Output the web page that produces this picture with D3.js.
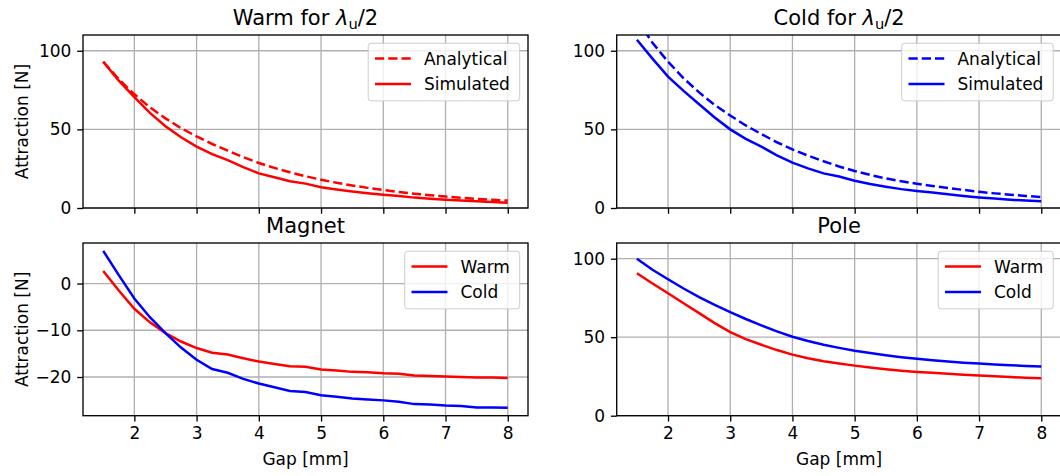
<!DOCTYPE html>
<html><head><meta charset="utf-8">
<script src="https://cdn.jsdelivr.net/npm/d3@7"></script>
<style>
body{margin:0;background:#fff}
svg text{font-family:"DejaVu Sans",sans-serif;fill:#000}
</style>
</head><body>
<svg id="c" width="1060" height="476"></svg>
<script>
// ---- data ----
const gap = [1.5,1.75,2.0,2.25,2.5,2.75,3.0,3.25,3.5,3.75,4.0,4.25,4.5,4.75,5.0,5.25,5.5,5.75,6.0,6.25,6.5,6.75,7.0,7.25,7.5,7.75,8.0];

const warmAnalytical = [93.0,82.0,72.3,64.0,57.0,50.8,45.5,40.7,36.5,32.3,28.6,25.5,22.7,20.2,18.0,16.0,14.3,12.8,11.4,10.2,9.1,8.1,7.3,6.5,5.8,5.2,4.7];
const warmSimulated  = [93.0,81.0,70.5,60.5,52.0,45.0,39.0,34.2,30.5,26.0,22.0,19.5,17.0,15.5,13.2,11.8,10.5,9.4,8.5,7.6,6.6,5.9,5.3,4.8,4.3,3.8,3.4];

const coldAnalytical = [120,105,93,82.5,73.5,65.5,58.8,52.5,47,41.8,37.3,33.3,29.7,26.4,23.5,21.0,18.8,17.0,15.4,14.0,12.7,11.5,10.3,9.3,8.5,7.7,7.0];
const coldSimulated  = [107,95,83.5,74.5,66,57.5,50,44,39,33.5,28.8,25.2,22,20,17.3,15.2,13.5,12,10.8,9.8,8.7,7.6,6.7,6.0,5.3,4.7,4.3];

const magnetWarm = [2.7,-1.5,-5.4,-8.3,-10.6,-12.4,-13.8,-14.8,-15.2,-16.0,-16.7,-17.2,-17.7,-17.8,-18.4,-18.6,-18.9,-19.0,-19.2,-19.3,-19.7,-19.8,-19.9,-20.0,-20.1,-20.1,-20.2];
const magnetCold = [7.0,1.8,-3.2,-7.2,-10.6,-13.7,-16.3,-18.3,-19.1,-20.4,-21.4,-22.2,-23.0,-23.2,-23.9,-24.2,-24.6,-24.8,-25.0,-25.3,-25.8,-25.9,-26.1,-26.2,-26.5,-26.5,-26.6];

const poleWarm = [90.7,84.2,78.0,71.6,65.3,59.0,53.2,48.8,45.2,41.8,38.9,36.6,34.7,33.2,31.9,30.7,29.6,28.7,27.9,27.3,26.7,26.1,25.6,25.1,24.6,24.2,23.9];
const poleCold = [100,93.0,86.9,81.0,75.5,70.6,66.0,61.6,57.5,53.7,50.3,47.6,45.2,43.2,41.4,39.9,38.5,37.3,36.2,35.3,34.5,33.8,33.2,32.6,32.1,31.7,31.3];

const xTicks = [2,3,4,5,6,7,8];
const yTicksForce = [0,50,100];
const yTicksMagnet = [-20,-10,0];
const xLabel = "Gap [mm]";
const yLabel = "Attraction [N]";

// ---- layout ----
const svg = d3.select("#c");
const FS = 17, TFS = 21;
const TICK = 5.8, PAD = 5.8;
const xDom = [1.5 - 0.325, 8 + 0.325];

function magnetDomain(){
  const all = magnetWarm.concat(magnetCold);
  const lo = d3.min(all), hi = d3.max(all), m = (hi-lo)*0.05;
  return [lo-m, hi+m];
}

const panels = [
  {box:[83,528,35,208], yDom:[0,110], yTicks:yTicksForce, title:["Warm for ", true], xLabels:false, yLab:true,
   series:[{v:warmAnalytical,c:"#ff0000",dash:true,label:"Analytical"},{v:warmSimulated,c:"#ff0000",dash:false,label:"Simulated"}]},
  {box:[616.7,1061.5,35,208], yDom:[0,110], yTicks:yTicksForce, title:["Cold for ", true], xLabels:false, yLab:false,
   series:[{v:coldAnalytical,c:"#0000ff",dash:true,label:"Analytical"},{v:coldSimulated,c:"#0000ff",dash:false,label:"Simulated"}]},
  {box:[83,528,243,415.7], yDom:magnetDomain(), yTicks:yTicksMagnet, title:["Magnet", false], xLabels:true, yLab:true,
   series:[{v:magnetWarm,c:"#ff0000",dash:false,label:"Warm"},{v:magnetCold,c:"#0000ff",dash:false,label:"Cold"}]},
  {box:[616.7,1061.5,243,415.7], yDom:[0,110], yTicks:yTicksForce, title:["Pole", false], xLabels:true, yLab:false,
   series:[{v:poleWarm,c:"#ff0000",dash:false,label:"Warm"},{v:poleCold,c:"#0000ff",dash:false,label:"Cold"}]}
];

panels.forEach((p,i)=>{
  const [L,R,T,B] = p.box;
  const x = d3.scaleLinear().domain(xDom).range([L,R]);
  const y = d3.scaleLinear().domain(p.yDom).range([B,T]);
  const g = svg.append("g");

  const clipId = "clip"+i;
  svg.append("clipPath").attr("id",clipId).append("rect")
    .attr("x",L).attr("y",T).attr("width",R-L).attr("height",B-T);

  // grid
  const grid = g.append("g").attr("stroke","#b0b0b0").attr("stroke-width",1.33);
  xTicks.forEach(t=>grid.append("line").attr("x1",x(t)).attr("x2",x(t)).attr("y1",T).attr("y2",B));
  p.yTicks.forEach(t=>grid.append("line").attr("x1",L).attr("x2",R).attr("y1",y(t)).attr("y2",y(t)));

  // lines
  const line = d3.line().x((d,j)=>x(gap[j])).y(d=>y(d));
  const lg = g.append("g").attr("clip-path",`url(#${clipId})`);
  p.series.forEach(s=>{
    lg.append("path").datum(s.v).attr("d",line).attr("fill","none")
      .attr("stroke",s.c).attr("stroke-width",2.5)
      .attr("stroke-dasharray", s.dash ? "9.25,4" : null);
  });

  // axes
  const xa = d3.axisBottom(x).tickValues(xTicks).tickSize(TICK).tickPadding(PAD)
    .tickFormat(p.xLabels ? d3.format("d") : ()=> "");
  const xg = g.append("g").attr("transform",`translate(0,${B})`).call(xa);
  const ya = d3.axisLeft(y).tickValues(p.yTicks).tickSize(TICK).tickPadding(PAD).tickFormat(d3.format("d"));
  const yg = g.append("g").attr("transform",`translate(${L},0)`).call(ya);
  [xg,yg].forEach(a=>{
    a.select(".domain").remove();
    a.selectAll(".tick line").attr("stroke","#000").attr("stroke-width",1.33);
    a.selectAll(".tick text").attr("font-size",FS).attr("font-family","DejaVu Sans").attr("fill","#000");
  });

  // spines
  g.append("rect").attr("x",L).attr("y",T).attr("width",R-L).attr("height",B-T)
    .attr("fill","none").attr("stroke","#000").attr("stroke-width",1.33);

  // title
  const cx = (L+R)/2;
  const tt = g.append("text").attr("x",cx).attr("y",T-10.5).attr("text-anchor","middle").attr("font-size",TFS);
  tt.append("tspan").text(p.title[0]);
  if(p.title[1]){
    tt.append("tspan").attr("font-style","italic").text("λ");
    tt.append("tspan").attr("font-size",TFS*0.7).attr("dy",4).text("u");
    tt.append("tspan").attr("dy",-4).text("/2");
  }

  if(p.xLabels){
    g.append("text").attr("x",cx).attr("y",465).attr("text-anchor","middle").attr("font-size",FS).text(xLabel);
  }
  if(p.yLab){
    g.append("text").attr("transform",`translate(28,${(T+B)/2}) rotate(-90)`)
      .attr("text-anchor","middle").attr("font-size",FS).text(yLabel);
  }

  // legend
  const lgd = g.append("g");
  const bp = 0.4*FS, hl = 36, htp = 13, rowH = 25.5;
  const texts = p.series.map((s,k)=> lgd.append("text").attr("font-size",FS).text(s.label));
  const tw = d3.max(texts, t=>t.node().getComputedTextLength());
  const w = bp*2 + hl + htp + tw + 3;
  const h = 57.6;
  const lx = R - 8.3 - w, ly = T + 8.3;
  lgd.insert("rect","text").attr("x",lx).attr("y",ly).attr("width",w).attr("height",h).attr("rx",3)
    .attr("fill","#fff").attr("fill-opacity",0.8).attr("stroke","#cccccc").attr("stroke-width",1);
  p.series.forEach((s,k)=>{
    const cy = ly + 15.3 + k*rowH;
    lgd.append("line").attr("x1",lx+bp).attr("x2",lx+bp+hl).attr("y1",cy).attr("y2",cy)
      .attr("stroke",s.c).attr("stroke-width",2.5).attr("stroke-dasharray", s.dash ? "9.25,4" : null);
    texts[k].attr("x",lx+bp+hl+htp).attr("y",cy).attr("dy","0.36em");
  });
});
</script>
</body></html>
